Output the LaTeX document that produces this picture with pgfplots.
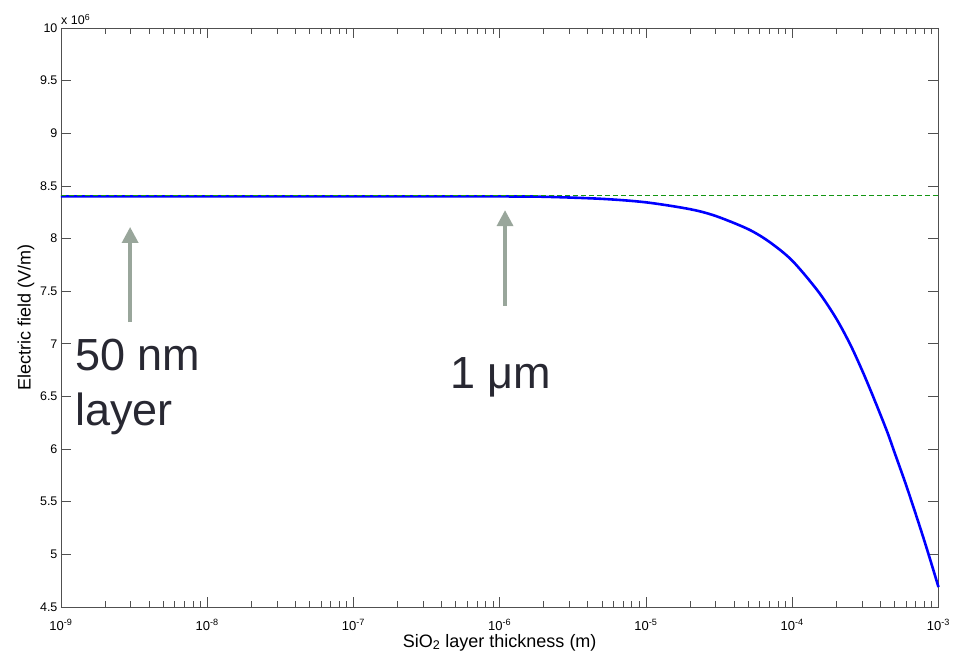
\documentclass[border=0pt]{standalone}
\usepackage{fontspec}
\setmainfont{Liberation Sans}
\usepackage{pgfplots}
\pgfplotsset{compat=1.18}
\usetikzlibrary{arrows.meta}
\definecolor{arrowgray}{RGB}{153,166,155}
\definecolor{annot}{RGB}{40,40,50}
\definecolor{mgreen}{RGB}{20,150,20}
\definecolor{axgray}{RGB}{80,80,80}
\begin{document}
\begin{tikzpicture}[x=1pt,y=1pt]
\useasboundingbox (0,0) rectangle (958,662);
\begin{axis}[
  at={(61pt,55pt)}, anchor=south west,
  scale only axis, width=877.5pt, height=579pt,
  xmode=log, log basis x=10,
  xmin=1e-9, xmax=1e-3, ymin=4.5e6, ymax=10e6,
  xtick={1e-9,1e-8,1e-7,1e-6,1e-5,1e-4,1e-3},
  minor xtick={2e-9,3e-9,4e-9,5e-9,6e-9,7e-9,8e-9,9e-9,
               2e-8,3e-8,4e-8,5e-8,6e-8,7e-8,8e-8,9e-8,
               2e-7,3e-7,4e-7,5e-7,6e-7,7e-7,8e-7,9e-7,
               2e-6,3e-6,4e-6,5e-6,6e-6,7e-6,8e-6,9e-6,
               2e-5,3e-5,4e-5,5e-5,6e-5,7e-5,8e-5,9e-5,
               2e-4,3e-4,4e-4,5e-4,6e-4,7e-4,8e-4,9e-4},
  xticklabels={10\textsuperscript{-9},10\textsuperscript{-8},10\textsuperscript{-7},10\textsuperscript{-6},10\textsuperscript{-5},10\textsuperscript{-4},10\textsuperscript{-3}},
  ytick={4.5e6,5e6,5.5e6,6e6,6.5e6,7e6,7.5e6,8e6,8.5e6,9e6,9.5e6,10e6},
  yticklabels={4.5,5,5.5,6,6.5,7,7.5,8,8.5,9,9.5,10},
  scaled y ticks=false,
  tick align=inside,
  major tick length=10pt, minor tick length=6pt,
  axis line style={axgray, line width=0.9pt},
  every tick/.style={axgray, line width=0.7pt},
  every minor tick/.style={axgray, line width=0.7pt},
  xticklabel style={font=\fontsize{13}{15}\selectfont, anchor=base, yshift=-23pt},
  yticklabel style={font=\fontsize{12.5}{14}\selectfont},
  xlabel={SiO\textsubscript{2} layer thickness (m)},
  ylabel={Electric field (V/m)},
  every axis x label/.style={at={(axis description cs:0.5,0)}, anchor=base, yshift=-40pt, font=\fontsize{18}{20}\selectfont},
  every axis y label/.style={at={(axis description cs:-0.0399,0.5)}, anchor=center, rotate=90, font=\fontsize{18}{20}\selectfont},
  clip=false,
]
\addplot[color=blue, line width=2.6pt, line join=round, smooth] coordinates {
 (1e-9,8.40e6) (1e-8,8.40e6) (1e-7,8.40e6) (1e-6,8.40e6) (2e-6,8.397e6)
 (5e-6,8.377e6) (1e-5,8.344e6) (2e-5,8.279e6) (3e-5,8.214e6) (5e-5,8.089e6)
 (7e-5,7.967e6) (1e-4,7.79e6) (1.5e-4,7.50e6) (2e-4,7.24e6) (2.5e-4,6.99e6)
 (3e-4,6.75e6) (3.5e-4,6.53e6) (4e-4,6.33e6) (4.5e-4,6.15e6) (5e-4,5.97e6)
 (6e-4,5.66e6) (7e-4,5.38e6) (8e-4,5.13e6) (9e-4,4.90e6) (1e-3,4.689e6)
};
\addplot[color=mgreen, line width=1.2pt, dash pattern=on 5pt off 3pt] coordinates {
 (1e-9,8.41e6) (1e-3,8.41e6)
};
\draw[arrowgray, line width=3.5pt, -{Triangle[width=16pt,length=16pt]}] (axis cs:2.97e-9,7.207e6) -- (axis cs:2.97e-9,8.11e6);
\draw[arrowgray, line width=3.5pt, -{Triangle[width=16pt,length=16pt]}] (axis cs:1.087e-6,7.36e6) -- (axis cs:1.087e-6,8.27e6);
\node[anchor=base west, inner sep=0pt, text=annot, font=\fontsize{45}{54}\selectfont] at (rel axis cs:0.016,0.4093) {50 nm};
\node[anchor=base west, inner sep=0pt, text=annot, font=\fontsize{45}{54}\selectfont] at (rel axis cs:0.016,0.3143) {layer};
\node[anchor=base west, inner sep=0pt, text=annot, font=\fontsize{45}{54}\selectfont] at (rel axis cs:0.4433,0.3782) {1 μm};
\node[anchor=base west, inner sep=0pt, font=\fontsize{12.5}{14}\selectfont] at (rel axis cs:0,1) [yshift=3pt] {x 10\textsuperscript{6}};
\end{axis}
\end{tikzpicture}
\end{document}
